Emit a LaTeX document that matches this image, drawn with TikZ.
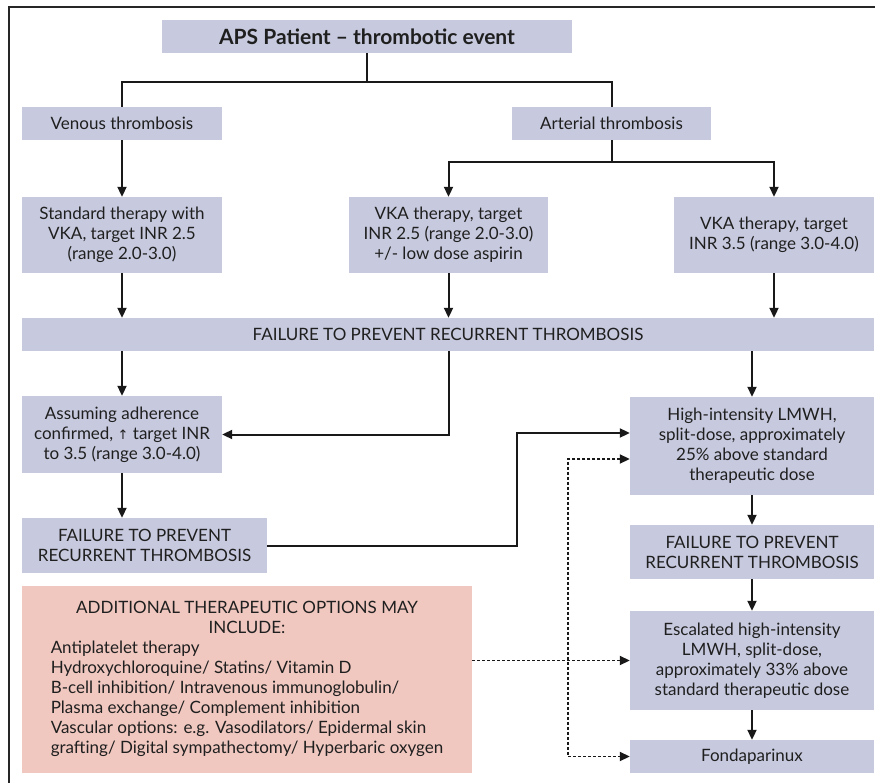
\documentclass[tikz,border=0pt]{standalone}
\usepackage{fontspec}
\setmainfont{Lato}
\newfontfamily\symf{DejaVu Sans}
\usetikzlibrary{arrows.meta}
\definecolor{boxc}{RGB}{199,201,222}
\definecolor{pinkc}{RGB}{240,200,192}
\begin{document}
\begin{tikzpicture}[x=1pt,y=-1pt,
  bx/.style={fill=boxc, inner sep=0pt, align=center, text=black!88,
    font=\fontsize{17}{20}\selectfont},
  addbox/.style={fill=pinkc, inner sep=0pt, text=black!88,
    font=\fontsize{17}{20}\selectfont},
  ln/.style={line width=2pt, black!90},
  arr/.style={ln, -{Triangle[length=10pt,width=9pt]}},
  darr/.style={line width=1.8pt, black!90, dash pattern=on 3pt off 2pt, -{Triangle[length=10pt,width=9pt]}},
  ddarr/.style={line width=1.8pt, black!90, dash pattern=on 3pt off 2pt, {Triangle[length=10pt,width=9pt]}-{Triangle[length=10pt,width=9pt]}}]
\useasboundingbox (0,0) rectangle (875,783);
\draw[line width=2pt, black!85] (9,783) -- (9,7) -- (875,7);

\node[bx, minimum width=410pt, minimum height=33pt, font=\fontsize{21}{22}\selectfont\bfseries] (title) at (367,36.5) {APS Patient -- thrombotic event};
\node[bx, minimum width=200pt, minimum height=33pt] (ven) at (122,123.5) {Venous thrombosis};
\node[bx, minimum width=199pt, minimum height=33pt] (art) at (611.5,123.5) {Arterial thrombosis};
\node[bx, minimum width=200pt, minimum height=76pt] (std) at (122,235) {Standard therapy with\\VKA, target INR 2.5\\(range 2.0-3.0)};
\node[bx, minimum width=199pt, minimum height=76pt] (vkam) at (448.5,235) {VKA therapy, target\\INR 2.5 (range 2.0-3.0)\\+/- low dose aspirin};
\node[bx, minimum width=200pt, minimum height=76pt] (vkar) at (774,235) {VKA therapy, target\\INR 3.5 (range 3.0-4.0)};
\node[bx, minimum width=852pt, minimum height=33pt] (fail1) at (448,334.5) {FAILURE TO PREVENT RECURRENT THROMBOSIS};
\node[bx, minimum width=200pt, minimum height=77pt] (ass) at (122,434.5) {Assuming adherence\\confirmed, {\symf\fontsize{13}{20}\selectfont ↑} target INR\\to 3.5 (range 3.0-4.0)};
\node[bx, minimum width=245pt, minimum height=55pt] (fail2) at (144.5,545.5) {FAILURE TO PREVENT\\RECURRENT THROMBOSIS};
\node[bx, minimum width=244pt, minimum height=98pt] (high) at (752,446) {High-intensity LMWH,\\split-dose, approximately\\25\% above standard\\therapeutic dose};
\node[bx, minimum width=244pt, minimum height=54pt] (fail3) at (752,552) {FAILURE TO PREVENT\\RECURRENT THROMBOSIS};
\node[bx, minimum width=244pt, minimum height=99pt] (esc) at (752,660.5) {Escalated high-intensity\\LMWH, split-dose,\\approximately 33\% above\\standard therapeutic dose};
\node[bx, minimum width=244pt, minimum height=33pt] (fond) at (752,756.5) {Fondaparinux};
\node[addbox, minimum width=450pt, minimum height=187pt] (add) at (247,679.5) {\begin{tabular}{@{}l@{}}
\multicolumn{1}{@{}c@{}}{ADDITIONAL THERAPEUTIC OPTIONS MAY}\\
\multicolumn{1}{@{}c@{}}{INCLUDE:}\\
Antiplatelet therapy\\
Hydroxychloroquine/ Statins/ Vitamin D\\
B-cell inhibition/ Intravenous immunoglobulin/\\
Plasma exchange/ Complement inhibition\\
Vascular options: e.g. Vasodilators/ Epidermal skin\\
grafting/ Digital sympathectomy/ Hyperbaric oxygen
\end{tabular}};

\coordinate (j1) at (367,82);
\coordinate (j2) at (611.5,162);
\coordinate (dv) at (568,0);
\draw[ln] (title.south) -- (j1);
\draw[ln] (ven.north) |- (j1) -| (art.north);
\draw[ln] (art.south) -- (j2);
\draw[arr] (j2) -| (vkam.north);
\draw[arr] (j2) -| (vkar.north);
\draw[arr] (ven) -- (std);
\draw[arr] (std.south) -- (std.south |- fail1.north);
\draw[arr] (vkam.south) -- (vkam.south |- fail1.north);
\draw[arr] (vkar.south) -- (vkar.south |- fail1.north);
\draw[arr] (fail1.south -| ass.north) -- (ass.north);
\draw[arr] (fail1.south -| vkam.south) |- (ass.east);
\draw[arr] (fail1.south -| high.north) -- (high.north);
\draw[arr] (ass.south) -- (ass.south |- fail2.north);
\draw[arr] (fail2.east) -- ++(250,0) |- ([yshift=13pt]high.west);
\draw[arr] (high) -- (fail3);
\draw[arr] (fail3) -- (esc);
\draw[arr] (esc) -- (fond);
\draw[darr] (esc.west -| add.east) -- (esc.west);
\draw[ddarr] ([yshift=-13pt]high.west) -| (dv |- fond.west) -- (fond.west);
\end{tikzpicture}
\end{document}
